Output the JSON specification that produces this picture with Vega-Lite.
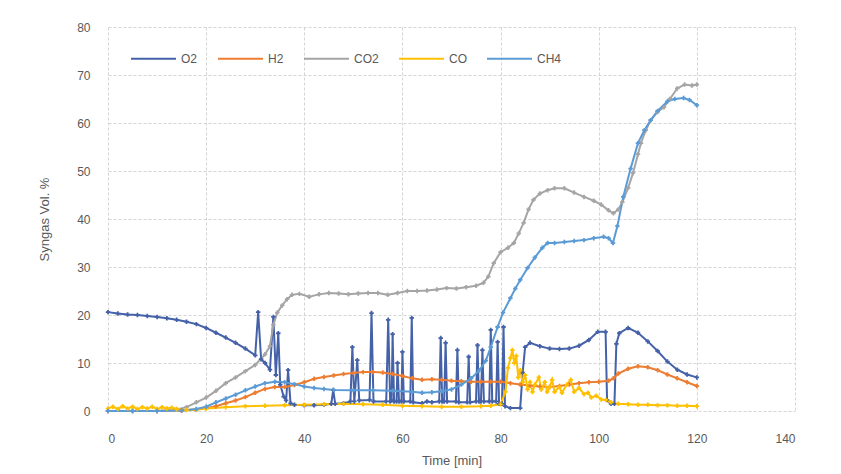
{
  "$schema": "https://vega.github.io/schema/vega-lite/v6.json",
  "width": 687,
  "height": 384,
  "autosize": {"type": "none"},
  "padding": {"left": 108, "top": 27, "right": 46, "bottom": 63},
  "background": "white",
  "config": {
    "view": {"stroke": null},
    "font": "Liberation Sans",
    "axis": {
      "labelColor": "#595959",
      "titleColor": "#595959",
      "labelFontSize": 12,
      "titleFontSize": 13,
      "titleFontWeight": "normal",
      "gridColor": "#D4D4D4",
      "gridDash": [3, 2],
      "domain": false,
      "ticks": false
    },
    "legend": {"labelColor": "#595959", "labelFontSize": 12}
  },
  "datasets": {
    "gas": [
      {"t":0,"s":"O2","v":20.6},{"t":2,"s":"O2","v":20.3},{"t":4,"s":"O2","v":20.1},{"t":6,"s":"O2","v":20},{"t":8,"s":"O2","v":19.8},{"t":10,"s":"O2","v":19.6},{"t":12,"s":"O2","v":19.3},{"t":14,"s":"O2","v":19},{"t":16,"s":"O2","v":18.6},{"t":18,"s":"O2","v":18.1},{"t":20,"s":"O2","v":17.3},{"t":22,"s":"O2","v":16.3},{"t":24,"s":"O2","v":15.3},{"t":26,"s":"O2","v":14.2},{"t":28,"s":"O2","v":13},{"t":30,"s":"O2","v":11.6},{"t":30.6,"s":"O2","v":20.6},{"t":31.2,"s":"O2","v":10.8},{"t":32,"s":"O2","v":10},{"t":33,"s":"O2","v":8.6},{"t":33.7,"s":"O2","v":19.6},{"t":34.2,"s":"O2","v":7.5},{"t":34.7,"s":"O2","v":16.2},{"t":35.1,"s":"O2","v":5.5},{"t":35.8,"s":"O2","v":3},{"t":36.3,"s":"O2","v":2.2},{"t":36.7,"s":"O2","v":8.5},{"t":37.2,"s":"O2","v":1.6},{"t":38,"s":"O2","v":1.3},{"t":40,"s":"O2","v":1.2},{"t":42,"s":"O2","v":1.2},{"t":44,"s":"O2","v":1.3},{"t":45.5,"s":"O2","v":1.5},{"t":45.9,"s":"O2","v":4.4},{"t":46.3,"s":"O2","v":1.5},{"t":48,"s":"O2","v":1.6},{"t":49.4,"s":"O2","v":2},{"t":49.8,"s":"O2","v":13.3},{"t":50.2,"s":"O2","v":2},{"t":50.8,"s":"O2","v":10.6},{"t":51.2,"s":"O2","v":2.2},{"t":53.3,"s":"O2","v":2.3},{"t":53.7,"s":"O2","v":20.4},{"t":54.1,"s":"O2","v":2},{"t":56.7,"s":"O2","v":2},{"t":57.1,"s":"O2","v":19},{"t":57.5,"s":"O2","v":2},{"t":57.8,"s":"O2","v":2.2},{"t":58,"s":"O2","v":16},{"t":58.3,"s":"O2","v":2},{"t":58.8,"s":"O2","v":2},{"t":59,"s":"O2","v":10},{"t":59.3,"s":"O2","v":2},{"t":59.8,"s":"O2","v":2},{"t":60,"s":"O2","v":12.3},{"t":60.3,"s":"O2","v":2},{"t":61.6,"s":"O2","v":2},{"t":61.9,"s":"O2","v":19.4},{"t":62.2,"s":"O2","v":1.8},{"t":64,"s":"O2","v":1.6},{"t":65,"s":"O2","v":2},{"t":66,"s":"O2","v":1.8},{"t":67.5,"s":"O2","v":2},{"t":67.8,"s":"O2","v":15.2},{"t":68.1,"s":"O2","v":2},{"t":68.5,"s":"O2","v":2},{"t":68.8,"s":"O2","v":14.2},{"t":69.1,"s":"O2","v":2},{"t":70.9,"s":"O2","v":2},{"t":71.2,"s":"O2","v":12.7},{"t":71.5,"s":"O2","v":1.8},{"t":73.2,"s":"O2","v":1.8},{"t":73.5,"s":"O2","v":11.3},{"t":73.8,"s":"O2","v":1.8},{"t":75,"s":"O2","v":2},{"t":75.3,"s":"O2","v":13.7},{"t":75.6,"s":"O2","v":2},{"t":76,"s":"O2","v":2},{"t":76.3,"s":"O2","v":12.7},{"t":76.6,"s":"O2","v":2},{"t":77.7,"s":"O2","v":2},{"t":78,"s":"O2","v":16.9},{"t":78.3,"s":"O2","v":2},{"t":79.1,"s":"O2","v":2},{"t":79.4,"s":"O2","v":14.4},{"t":79.7,"s":"O2","v":1.5},{"t":80.3,"s":"O2","v":1.5},{"t":80.6,"s":"O2","v":17.5},{"t":80.9,"s":"O2","v":1},{"t":82,"s":"O2","v":0.6},{"t":84,"s":"O2","v":0.6},{"t":84.5,"s":"O2","v":8},{"t":85,"s":"O2","v":13.3},{"t":86,"s":"O2","v":14.2},{"t":88,"s":"O2","v":13.5},{"t":90,"s":"O2","v":13},{"t":92,"s":"O2","v":12.9},{"t":94,"s":"O2","v":13},{"t":96,"s":"O2","v":13.6},{"t":98,"s":"O2","v":14.8},{"t":99.8,"s":"O2","v":16.5},{"t":101.4,"s":"O2","v":16.5},{"t":101.7,"s":"O2","v":2.3},{"t":102.5,"s":"O2","v":1.5},{"t":103.2,"s":"O2","v":1.5},{"t":103.6,"s":"O2","v":14},{"t":104.2,"s":"O2","v":16.2},{"t":106,"s":"O2","v":17.3},{"t":108,"s":"O2","v":16.3},{"t":110,"s":"O2","v":14.5},{"t":112,"s":"O2","v":12.5},{"t":114,"s":"O2","v":10.3},{"t":116,"s":"O2","v":8.6},{"t":118,"s":"O2","v":7.6},{"t":120,"s":"O2","v":7},

      {"t":0,"s":"H2","v":0},{"t":5,"s":"H2","v":0},{"t":10,"s":"H2","v":0},{"t":15,"s":"H2","v":0.1},{"t":18,"s":"H2","v":0.3},{"t":20,"s":"H2","v":0.6},{"t":22,"s":"H2","v":1},{"t":24,"s":"H2","v":1.6},{"t":26,"s":"H2","v":2.2},{"t":28,"s":"H2","v":2.9},{"t":30,"s":"H2","v":3.8},{"t":32,"s":"H2","v":4.6},{"t":34,"s":"H2","v":5},{"t":36,"s":"H2","v":5},{"t":38,"s":"H2","v":5.4},{"t":40,"s":"H2","v":6},{"t":42,"s":"H2","v":6.7},{"t":44,"s":"H2","v":7.1},{"t":46,"s":"H2","v":7.4},{"t":48,"s":"H2","v":7.7},{"t":50,"s":"H2","v":7.9},{"t":52,"s":"H2","v":8.1},{"t":54,"s":"H2","v":8.1},{"t":56,"s":"H2","v":8},{"t":58,"s":"H2","v":7.7},{"t":60,"s":"H2","v":7.3},{"t":62,"s":"H2","v":6.8},{"t":64,"s":"H2","v":6.5},{"t":66,"s":"H2","v":6.6},{"t":68,"s":"H2","v":6.5},{"t":70,"s":"H2","v":6.3},{"t":72,"s":"H2","v":6.2},{"t":74,"s":"H2","v":6.1},{"t":76,"s":"H2","v":6.1},{"t":78,"s":"H2","v":6.1},{"t":80,"s":"H2","v":6.1},{"t":82,"s":"H2","v":5.8},{"t":84,"s":"H2","v":5.5},{"t":86,"s":"H2","v":5.3},{"t":88,"s":"H2","v":5.1},{"t":90,"s":"H2","v":5},{"t":92,"s":"H2","v":5.2},{"t":94,"s":"H2","v":5.5},{"t":96,"s":"H2","v":5.8},{"t":98,"s":"H2","v":6},{"t":100,"s":"H2","v":6.1},{"t":102,"s":"H2","v":6.3},{"t":103,"s":"H2","v":6.8},{"t":104,"s":"H2","v":7.8},{"t":106,"s":"H2","v":8.8},{"t":108,"s":"H2","v":9.3},{"t":110,"s":"H2","v":9.1},{"t":112,"s":"H2","v":8.5},{"t":114,"s":"H2","v":7.6},{"t":116,"s":"H2","v":6.8},{"t":118,"s":"H2","v":6},{"t":120,"s":"H2","v":5.2},

      {"t":0,"s":"CO2","v":0},{"t":5,"s":"CO2","v":0},{"t":10,"s":"CO2","v":0},{"t":14,"s":"CO2","v":0.3},{"t":16,"s":"CO2","v":0.8},{"t":18,"s":"CO2","v":1.8},{"t":20,"s":"CO2","v":2.8},{"t":22,"s":"CO2","v":4.2},{"t":24,"s":"CO2","v":5.8},{"t":26,"s":"CO2","v":7},{"t":28,"s":"CO2","v":8.3},{"t":30,"s":"CO2","v":9.6},{"t":32,"s":"CO2","v":11.8},{"t":33,"s":"CO2","v":13.5},{"t":33.7,"s":"CO2","v":18},{"t":34.5,"s":"CO2","v":20.5},{"t":35.5,"s":"CO2","v":22},{"t":36.5,"s":"CO2","v":23.3},{"t":37.5,"s":"CO2","v":24.2},{"t":39,"s":"CO2","v":24.4},{"t":41,"s":"CO2","v":23.8},{"t":43,"s":"CO2","v":24.3},{"t":45,"s":"CO2","v":24.6},{"t":47,"s":"CO2","v":24.5},{"t":49,"s":"CO2","v":24.3},{"t":51,"s":"CO2","v":24.5},{"t":53,"s":"CO2","v":24.6},{"t":55,"s":"CO2","v":24.6},{"t":57,"s":"CO2","v":24.2},{"t":59,"s":"CO2","v":24.6},{"t":61,"s":"CO2","v":25},{"t":63,"s":"CO2","v":25},{"t":65,"s":"CO2","v":25.1},{"t":67,"s":"CO2","v":25.3},{"t":69,"s":"CO2","v":25.6},{"t":71,"s":"CO2","v":25.5},{"t":73,"s":"CO2","v":25.8},{"t":75,"s":"CO2","v":26.1},{"t":76.5,"s":"CO2","v":26.7},{"t":77.5,"s":"CO2","v":28},{"t":78.6,"s":"CO2","v":30.8},{"t":80,"s":"CO2","v":33.1},{"t":81.5,"s":"CO2","v":34},{"t":82.7,"s":"CO2","v":35},{"t":83.7,"s":"CO2","v":37},{"t":84.7,"s":"CO2","v":39.2},{"t":85.7,"s":"CO2","v":42},{"t":86.7,"s":"CO2","v":44},{"t":88,"s":"CO2","v":45.3},{"t":89.6,"s":"CO2","v":46},{"t":91,"s":"CO2","v":46.4},{"t":93,"s":"CO2","v":46.4},{"t":95,"s":"CO2","v":45.5},{"t":97,"s":"CO2","v":44.6},{"t":99,"s":"CO2","v":43.8},{"t":100.5,"s":"CO2","v":43},{"t":102,"s":"CO2","v":41.8},{"t":103,"s":"CO2","v":41.2},{"t":104,"s":"CO2","v":42},{"t":104.8,"s":"CO2","v":43.5},{"t":106,"s":"CO2","v":46.5},{"t":107,"s":"CO2","v":49.6},{"t":108,"s":"CO2","v":53.5},{"t":108.6,"s":"CO2","v":55.8},{"t":109.6,"s":"CO2","v":58.5},{"t":110.6,"s":"CO2","v":60.6},{"t":112,"s":"CO2","v":62.3},{"t":113.3,"s":"CO2","v":63.3},{"t":114.5,"s":"CO2","v":65},{"t":116,"s":"CO2","v":67.2},{"t":117.5,"s":"CO2","v":68},{"t":119,"s":"CO2","v":67.8},{"t":120,"s":"CO2","v":68},

      {"t":0,"s":"CO","v":0.5},{"t":1,"s":"CO","v":0.9},{"t":2,"s":"CO","v":0.4},{"t":3,"s":"CO","v":1},{"t":4,"s":"CO","v":0.5},{"t":5,"s":"CO","v":0.9},{"t":6,"s":"CO","v":0.4},{"t":7,"s":"CO","v":0.8},{"t":8,"s":"CO","v":0.5},{"t":9,"s":"CO","v":0.9},{"t":10,"s":"CO","v":0.4},{"t":11,"s":"CO","v":0.8},{"t":12,"s":"CO","v":0.5},{"t":13,"s":"CO","v":0.7},{"t":14,"s":"CO","v":0.4},{"t":16,"s":"CO","v":0.2},{"t":18,"s":"CO","v":0.3},{"t":20,"s":"CO","v":0.5},{"t":24,"s":"CO","v":0.8},{"t":28,"s":"CO","v":1},{"t":32,"s":"CO","v":1.1},{"t":36,"s":"CO","v":1.2},{"t":40,"s":"CO","v":1.3},{"t":44,"s":"CO","v":1.4},{"t":48,"s":"CO","v":1.5},{"t":52,"s":"CO","v":1.4},{"t":56,"s":"CO","v":1.3},{"t":60,"s":"CO","v":1.1},{"t":64,"s":"CO","v":1},{"t":68,"s":"CO","v":0.9},{"t":72,"s":"CO","v":0.9},{"t":76,"s":"CO","v":1},{"t":78,"s":"CO","v":1.1},{"t":80,"s":"CO","v":1.4},{"t":81,"s":"CO","v":4},{"t":81.5,"s":"CO","v":9},{"t":82,"s":"CO","v":11},{"t":82.4,"s":"CO","v":12.7},{"t":82.8,"s":"CO","v":10},{"t":83.2,"s":"CO","v":11.5},{"t":83.6,"s":"CO","v":7},{"t":84,"s":"CO","v":8.5},{"t":84.5,"s":"CO","v":6},{"t":85,"s":"CO","v":7.5},{"t":85.5,"s":"CO","v":4.5},{"t":86,"s":"CO","v":6},{"t":86.5,"s":"CO","v":4},{"t":87,"s":"CO","v":5.5},{"t":87.8,"s":"CO","v":7},{"t":88.3,"s":"CO","v":4.5},{"t":89,"s":"CO","v":6},{"t":89.5,"s":"CO","v":4},{"t":90,"s":"CO","v":5},{"t":90.5,"s":"CO","v":6.5},{"t":91,"s":"CO","v":4},{"t":92,"s":"CO","v":5},{"t":92.5,"s":"CO","v":3.8},{"t":93.5,"s":"CO","v":5.5},{"t":94.3,"s":"CO","v":6.5},{"t":95,"s":"CO","v":4},{"t":96,"s":"CO","v":4.8},{"t":97,"s":"CO","v":3.5},{"t":97.8,"s":"CO","v":3.8},{"t":98.5,"s":"CO","v":2.8},{"t":99.5,"s":"CO","v":3.2},{"t":100.5,"s":"CO","v":2.4},{"t":101.5,"s":"CO","v":2.3},{"t":102.5,"s":"CO","v":1.8},{"t":104,"s":"CO","v":1.5},{"t":106,"s":"CO","v":1.4},{"t":108,"s":"CO","v":1.3},{"t":110,"s":"CO","v":1.3},{"t":112,"s":"CO","v":1.2},{"t":114,"s":"CO","v":1.2},{"t":116,"s":"CO","v":1.1},{"t":118,"s":"CO","v":1.1},{"t":120,"s":"CO","v":1},

      {"t":0,"s":"CH4","v":0},{"t":5,"s":"CH4","v":0},{"t":10,"s":"CH4","v":0},{"t":15,"s":"CH4","v":0.1},{"t":18,"s":"CH4","v":0.4},{"t":20,"s":"CH4","v":0.9},{"t":22,"s":"CH4","v":1.8},{"t":24,"s":"CH4","v":2.6},{"t":26,"s":"CH4","v":3.4},{"t":28,"s":"CH4","v":4.3},{"t":30,"s":"CH4","v":5.1},{"t":32,"s":"CH4","v":5.8},{"t":34,"s":"CH4","v":6.1},{"t":36,"s":"CH4","v":6},{"t":38,"s":"CH4","v":5.6},{"t":40,"s":"CH4","v":5.1},{"t":42,"s":"CH4","v":4.8},{"t":44,"s":"CH4","v":4.6},{"t":46,"s":"CH4","v":4.4},{"t":50,"s":"CH4","v":4.3},{"t":54,"s":"CH4","v":4.3},{"t":58,"s":"CH4","v":4.2},{"t":62,"s":"CH4","v":4},{"t":64,"s":"CH4","v":3.8},{"t":66,"s":"CH4","v":3.9},{"t":68,"s":"CH4","v":4.1},{"t":70,"s":"CH4","v":4.5},{"t":72,"s":"CH4","v":5.5},{"t":74,"s":"CH4","v":6.8},{"t":75.7,"s":"CH4","v":8.5},{"t":77,"s":"CH4","v":10.5},{"t":78,"s":"CH4","v":13.3},{"t":79.4,"s":"CH4","v":17.5},{"t":80.5,"s":"CH4","v":20.5},{"t":82,"s":"CH4","v":23.5},{"t":83,"s":"CH4","v":25.5},{"t":84,"s":"CH4","v":27.3},{"t":85.5,"s":"CH4","v":29.8},{"t":87,"s":"CH4","v":32},{"t":88.5,"s":"CH4","v":34},{"t":89.6,"s":"CH4","v":35},{"t":91,"s":"CH4","v":35},{"t":93,"s":"CH4","v":35.2},{"t":95,"s":"CH4","v":35.4},{"t":97,"s":"CH4","v":35.6},{"t":99,"s":"CH4","v":36},{"t":101,"s":"CH4","v":36.3},{"t":102,"s":"CH4","v":36},{"t":102.9,"s":"CH4","v":35},{"t":103.8,"s":"CH4","v":38.5},{"t":105,"s":"CH4","v":44.6},{"t":106.5,"s":"CH4","v":50.5},{"t":108,"s":"CH4","v":55.8},{"t":109.3,"s":"CH4","v":58.5},{"t":110.6,"s":"CH4","v":60.6},{"t":112,"s":"CH4","v":62.5},{"t":114,"s":"CH4","v":64.5},{"t":115.5,"s":"CH4","v":65},{"t":117.3,"s":"CH4","v":65.2},{"t":118.5,"s":"CH4","v":64.8},{"t":120,"s":"CH4","v":63.7}
    ]
  },
  "data": {"name": "gas"},
  "encoding": {
    "x": {
      "field": "t", "type": "quantitative",
      "scale": {"domain": [0, 140], "nice": false},
      "axis": {"values": [0, 20, 40, 60, 80, 100, 120, 140], "title": "Time [min]", "labelPadding": 22, "titlePadding": 10}
    },
    "y": {
      "field": "v", "type": "quantitative",
      "scale": {"domain": [0, 80], "nice": false},
      "axis": {"values": [0, 10, 20, 30, 40, 50, 60, 70, 80], "title": "Syngas Vol. %", "labelPadding": 18, "titlePadding": 25}
    },
    "color": {
      "field": "s", "type": "nominal",
      "scale": {"domain": ["O2", "H2", "CO2", "CO", "CH4"], "range": ["#4561A8", "#ED7D31", "#A5A5A5", "#FFC000", "#5B9BD5"]},
      "sort": ["O2", "H2", "CO2", "CO", "CH4"],
      "legend": {
        "title": null, "orient": "none", "legendX": 22, "legendY": 8, "direction": "horizontal",
        "symbolType": "stroke", "symbolSize": 2025, "symbolStrokeWidth": 2, "columnPadding": 16, "labelOffset": 4
      }
    }
  },
  "layer": [
    {"mark": {"type": "line", "strokeWidth": 2}, "encoding": {"detail": {"field": "s"}}},
    {"mark": {"type": "point", "shape": "cross", "filled": true, "size": 20, "opacity": 1}}
  ]
}
